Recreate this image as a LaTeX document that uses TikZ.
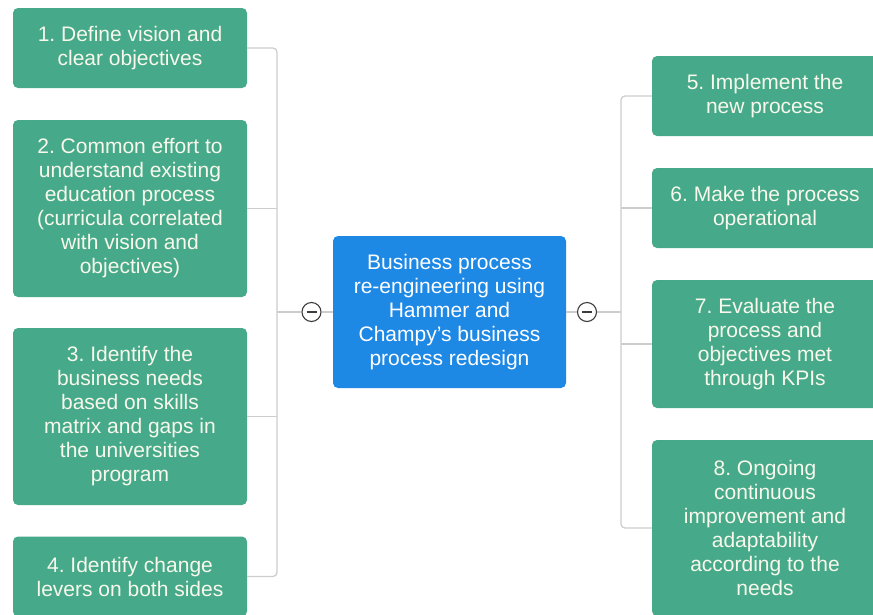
\documentclass[tikz,border=0pt]{standalone}
\usepackage{fontspec}
\setmainfont{Liberation Sans}
\frenchspacing
\definecolor{boxgreen}{RGB}{70,170,138}
\definecolor{boxblue}{RGB}{30,136,229}
\definecolor{linegray}{RGB}{205,205,205}
\definecolor{circgray}{RGB}{60,60,60}
\definecolor{txtwhite}{RGB}{248,248,236}
\begin{document}
\begin{tikzpicture}[x=1pt,y=-1pt,
  gbox/.style={fill=boxgreen, rounded corners=5pt, text=txtwhite, align=center,
    font=\fontsize{21}{24}\selectfont, inner sep=0pt},
  lbox/.style={gbox, minimum width=234pt},
  rbox/.style={gbox, minimum width=226pt},
  cbox/.style={gbox, fill=boxblue, text=white, minimum width=233pt, minimum height=152pt},
  conn/.style={draw=linegray, line width=1.3pt, rounded corners=4pt},
  toggle/.style={circle, draw=circgray, fill=white, line width=1.1pt, minimum size=19pt, inner sep=0pt},
]
\useasboundingbox (0,0) rectangle (873,614);
% central node
\node[cbox] (c) at (449.5,312) {Business process\\re-engineering using\\Hammer and\\Champy's business\\process redesign};
% left nodes
\node[lbox, minimum height=80pt] (b1) at (130,48) {1. Define vision and\\clear objectives};
\node[lbox, minimum height=177pt] (b2) at (130,208.5) {2. Common effort to\\understand existing\\education process\\(curricula correlated\\with vision and\\objectives)};
\node[lbox, minimum height=177pt] (b3) at (130,416.5) {3. Identify the\\business needs\\based on skills\\matrix and gaps in\\the universities\\program};
\node[lbox, minimum height=80pt] (b4) at (130,576.5) {4. Identify change\\levers on both sides};
% right nodes
\node[rbox, minimum height=80pt] (b5) at (765,96) {5. Implement the\\new process};
\node[rbox, minimum height=80pt] (b6) at (765,208) {6. Make the process\\operational};
\node[rbox, minimum height=128pt] (b7) at (765,344) {7. Evaluate the\\process and\\objectives met\\through KPIs};
\node[rbox, minimum height=176pt] (b8) at (765,528) {8. Ongoing\\continuous\\improvement and\\adaptability\\according to the\\needs};
% buses
\coordinate (lbus) at (277,312);
\coordinate (rbus) at (621,312);
\node[toggle] (lc) at (311.5,312) {};
\node[toggle] (rc) at (587,312) {};
% left connectors
\draw[conn] (b1.east) -- (b1.east -| lbus) -- (b4.east -| lbus) -- (b4.east);
\draw[conn] (b2.east) -- (b2.east -| lbus);
\draw[conn] (b3.east) -- (b3.east -| lbus);
\draw[conn] (lbus) -- (lc.west);
\draw[conn] (lc.east) -- (c.west);
% right connectors
\draw[conn] (b5.west) -- (b5.west -| rbus) -- (b8.west -| rbus) -- (b8.west);
\draw[conn] (b6.west) -- (b6.west -| rbus);
\draw[conn] (b7.west) -- (b7.west -| rbus);
\draw[conn] (c.east) -- (rc.west);
\draw[conn] (rc.east) -- (rbus);
% minus signs
\draw[circgray, line width=1.2pt] ([xshift=-5pt]lc.center) -- ([xshift=5pt]lc.center);
\draw[circgray, line width=1.2pt] ([xshift=-5pt]rc.center) -- ([xshift=5pt]rc.center);
\end{tikzpicture}
\end{document}
